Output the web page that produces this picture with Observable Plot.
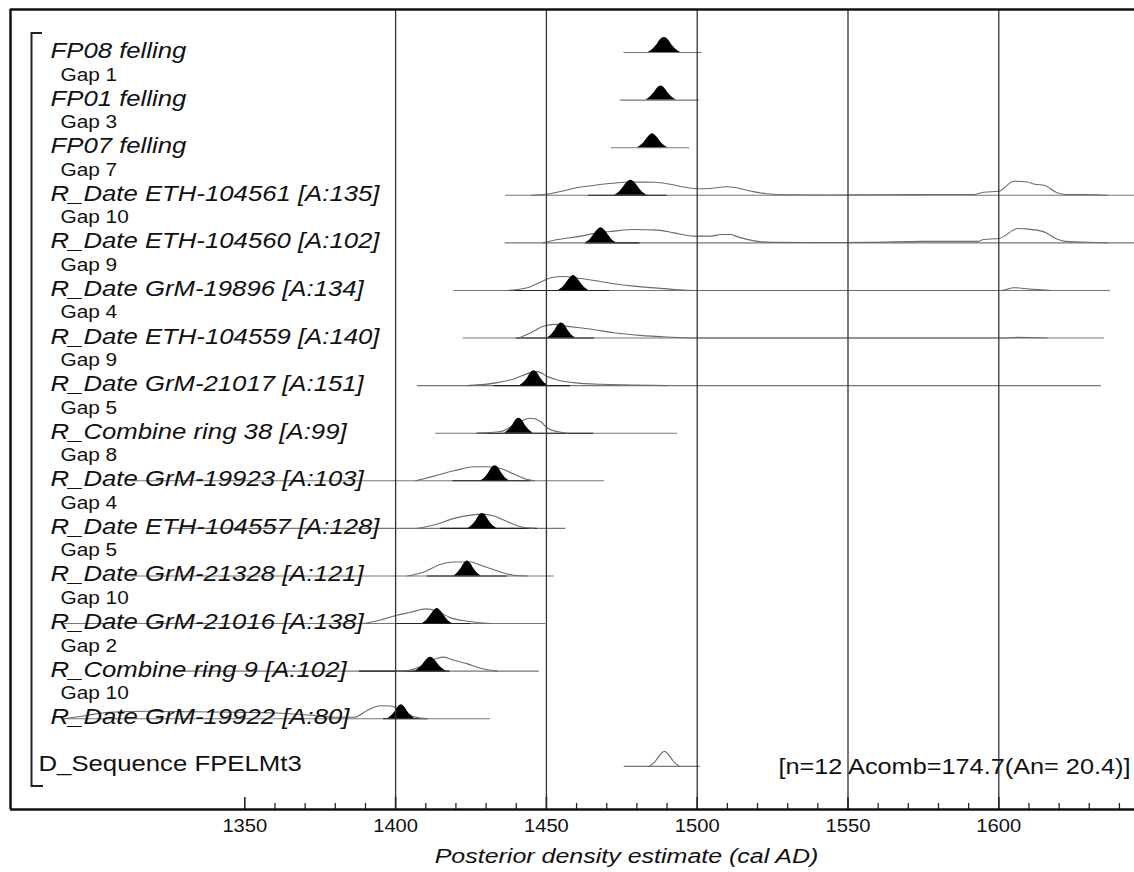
<!DOCTYPE html>
<html><head><meta charset="utf-8">
<script src="https://cdn.jsdelivr.net/npm/d3@7"></script>
<script src="https://cdn.jsdelivr.net/npm/@observablehq/plot@0.6"></script>
<style>body{margin:0;background:#fff} svg{display:block}</style>
</head><body><div id="chart"></div>
<script>
// ---------------- data ----------------
const rowLabels = [
  "FP08 felling", "FP01 felling", "FP07 felling",
  "R_Date ETH-104561 [A:135]", "R_Date ETH-104560 [A:102]", "R_Date GrM-19896 [A:134]",
  "R_Date ETH-104559 [A:140]", "R_Date GrM-21017 [A:151]", "R_Combine ring 38 [A:99]",
  "R_Date GrM-19923 [A:103]", "R_Date ETH-104557 [A:128]", "R_Date GrM-21328 [A:121]",
  "R_Date GrM-21016 [A:138]", "R_Combine ring 9 [A:102]", "R_Date GrM-19922 [A:80]"
];
const gapLabels = ["Gap 1","Gap 3","Gap 7","Gap 10","Gap 9","Gap 4","Gap 9","Gap 5","Gap 8","Gap 4","Gap 5","Gap 10","Gap 2","Gap 10"];
const sequenceLabel = "D_Sequence FPELMt3";
const sequenceStats = "[n=12 Acomb=174.7(An= 20.4)]";
const axisTitle = "Posterior density estimate (cal AD)";
const majorTicks = [1350, 1400, 1450, 1500, 1550, 1600];
const minorTicks = [1360,1370,1380,1390,1410,1420,1430,1440,1460,1470,1480,1490,1510,1520,1530,1540,1560,1570,1580,1590,1610,1620,1630,1640];
const gridYears = [1400, 1450, 1500, 1550, 1600];

// prior (baseline) ranges per row: [row, start, end]
const priorRanges = [
  [0,1475.7,1501.6],[1,1474.5,1500.7],[2,1471.6,1497.5],[3,1436.4,1650],[4,1436.3,1650],
  [5,1419.4,1637],[6,1422.4,1635],[7,1407.2,1634],[8,1413.3,1493.5],[9,1312,1469.2],
  [10,1325.3,1456.4],[11,1312,1452.6],[12,1290,1449.8],[13,1328,1447.6],[14,1290,1431.5],
  [15,1475.8,1501]
];
// darker range bars: [row, start, end]
const rangeBars = [
  [3,1464,1490],[4,1463,1481],[5,1437,1471],[6,1440,1466],[7,1432.6,1458],[8,1427,1465.7],
  [9,1419,1445],[10,1415,1447],[11,1410.5,1437],[12,1400,1425],[13,1388,1418],[14,1396,1410.5]
];
// unmodelled (likelihood) outlines: [year, height px]
const likeETH104561 = [[1445,0],[1450,1],[1455,4],[1460,7.5],[1466,10],[1472,12],[1478,13.2],[1486,13],[1491,11],[1496,8],[1500,6.5],[1505,7],[1509.5,8.5],[1513,7.5],[1518,4],[1523,1.5],[1530,0.5],[1545,0.3],[1557,0.5],[1575,0.7],[1592,0.8],[1595,3],[1600,4],[1605,14],[1609.5,13.3],[1612,11],[1615,10],[1619.5,2.3],[1622,0.8],[1633,0.5],[1636,0]];
const likeETH104560 = [[1449,0],[1453.7,3.3],[1461.4,6.7],[1466,9.5],[1472.4,11.7],[1479,13.3],[1486.9,12.7],[1492.3,10],[1499,6.7],[1504.5,6.7],[1508,8.3],[1511,8.3],[1513.4,6],[1519,2],[1524.5,0.5],[1540,0.3],[1557,0.5],[1575,1.5],[1593,1.5],[1595,3.3],[1600,4.3],[1606.4,14.3],[1609.8,13.7],[1615,11],[1619.7,3.3],[1622,1.5],[1633,0.3],[1636,0]];
const likeGrM19896 = [[1437,0],[1443.7,2.7],[1448,8.3],[1451.5,12.7],[1455.8,14],[1460,12.5],[1465.8,10],[1472.4,6.7],[1479,4.3],[1486.9,2.3],[1493.5,0.7],[1499,0],[1601,0],[1605,2.7],[1610,1.5],[1617,0]];
const likeETH104559 = [[1440.8,0],[1444.2,4.3],[1449,11.7],[1452.5,13.7],[1457,11.7],[1463.7,9.3],[1472.4,5.3],[1481,2.7],[1490,1],[1499,0],[1602,0],[1606,0.7],[1614,0.3],[1616,0]];
const likeGrM21017 = [[1423.8,0],[1433.8,3],[1439.2,6.7],[1444.8,13],[1447,14],[1450.4,9],[1453.7,5.7],[1459,3],[1468,1.3],[1479,0.7],[1490,0]];
const likeRing38 = [[1427,0],[1434.9,1.7],[1439.2,8.3],[1444.8,15],[1448.1,11.7],[1450.4,5],[1454.8,1],[1457,0]];
const likeGrM19923 = [[1406.7,0],[1412.7,4.7],[1419.4,10],[1426,14],[1430.4,14],[1434.9,12.3],[1439.2,6.7],[1443.7,1.3],[1446,0]];
const likeETH104557 = [[1407.2,0],[1412.7,3.3],[1419.4,10],[1425,13.3],[1428.8,14.3],[1432.6,12.3],[1437.1,6.7],[1441.5,1.7],[1445.9,0]];
const likeGrM21328 = [[1403.9,0],[1409.4,4],[1415,11.7],[1419.4,14],[1425,14],[1428.2,10.7],[1433.8,5],[1439.2,0.7],[1443.7,0]];
const likeGrM21016 = [[1389.5,0],[1395,3.5],[1400,8],[1405,11.3],[1410,14.7],[1413.8,12.3],[1418.3,5.7],[1423.8,2.3],[1431.5,0]];
const likeRing9 = [[1400,0],[1403.9,0.5],[1408.3,4.7],[1413.8,13],[1416,14],[1418.3,12],[1423.8,7.3],[1428.2,3],[1433.8,0]];
const likeGrM19922 = [[1290,0],[1297,3],[1305,6.5],[1318,7.5],[1332,7],[1348,6.5],[1362,5.5],[1372,3.5],[1380,1.5],[1386.2,1.5],[1390.6,8.3],[1395,13],[1398.4,12.7],[1401.7,8.7],[1406.1,2],[1410.5,0]];
const sequenceOutline = [[1484.1,0],[1485.7,3.6],[1486.7,7.5],[1487.8,12],[1489.1,15],[1490.4,12],[1491.5,7.5],[1492.5,3.6],[1494.1,0]];

// modelled (posterior) densities: [year, height px]
const postFP08 = [[1483.7,0],[1485.4,3.6],[1486.6,7.5],[1487.6,12],[1489.1,15],[1490.6,12],[1491.6,7.5],[1492.8,3.6],[1494.5,0]];
const postFP01 = [[1482.9,0],[1484.5,3.4],[1485.6,7],[1486.6,11.2],[1488,14],[1489.4,11.2],[1490.4,7],[1491.5,3.4],[1493.2,0]];
const postFP07 = [[1480.2,0],[1481.8,3.4],[1482.8,7],[1483.9,11.2],[1485.2,14],[1486.5,11.2],[1487.6,7],[1488.6,3.4],[1490.2,0]];
const postETH104561 = [[1472.5,0],[1474.3,3.6],[1475.4,7.5],[1476.5,12],[1478,15],[1479.5,12],[1480.6,7.5],[1481.7,3.6],[1483.5,0]];
const postETH104560 = [[1462.9,0],[1464.6,3.6],[1465.6,7.5],[1466.7,12],[1468.1,15],[1469.5,12],[1470.6,7.5],[1471.6,3.6],[1473.3,0]];
const postGrM19896 = [[1454,0],[1455.6,3.6],[1456.6,7.5],[1457.7,12],[1459,15],[1460.3,12],[1461.4,7.5],[1462.4,3.6],[1464,0]];
const postETH104559 = [[1450.3,0],[1451.8,3.6],[1452.8,7.5],[1453.7,12],[1455,15],[1456.3,12],[1457.2,7.5],[1458.2,3.6],[1459.8,0]];
const postGrM21017 = [[1441.2,0],[1442.7,3.6],[1443.7,7.5],[1444.6,12],[1445.9,15],[1447.2,12],[1448.1,7.5],[1449.1,3.6],[1450.7,0]];
const postRing38 = [[1436.2,0],[1437.7,3.6],[1438.7,7.5],[1439.6,12],[1440.9,15],[1442.2,12],[1443.1,7.5],[1444.1,3.6],[1445.6,0]];
const postGrM19923 = [[1428.3,0],[1429.8,3.6],[1430.8,7.5],[1431.7,12],[1433,15],[1434.3,12],[1435.2,7.5],[1436.2,3.6],[1437.8,0]];
const postETH104557 = [[1424.1,0],[1425.6,3.6],[1426.6,7.5],[1427.5,12],[1428.8,15],[1430.1,12],[1431,7.5],[1432,3.6],[1433.6,0]];
const postGrM21328 = [[1419.3,0],[1420.7,3.6],[1421.7,7.5],[1422.6,12],[1423.8,15],[1425,12],[1425.9,7.5],[1426.9,3.6],[1428.3,0]];
const postGrM21016 = [[1408.8,0],[1410.4,3.6],[1411.4,7.5],[1412.5,12],[1413.8,15],[1415.1,12],[1416.2,7.5],[1417.2,3.6],[1418.8,0]];
const postRing9 = [[1406.4,0],[1408,3.4],[1409.1,7],[1410.2,11.2],[1411.6,14],[1413,11.2],[1414.1,7],[1415.2,3.4],[1416.9,0]];
const postGrM19922 = [[1397.4,0],[1398.8,3.4],[1399.8,7],[1400.7,11.2],[1401.9,14],[1403.1,11.2],[1404,7],[1405,3.4],[1406.4,0]];

const likelihoodByRow = [
  [3, likeETH104561],[4, likeETH104560],[5, likeGrM19896],[6, likeETH104559],[7, likeGrM21017],
  [8, likeRing38],[9, likeGrM19923],[10, likeETH104557],[11, likeGrM21328],[12, likeGrM21016],
  [13, likeRing9],[14, likeGrM19922],[15, sequenceOutline]
];
const posteriorByRow = [
  [0, postFP08],[1, postFP01],[2, postFP07],[3, postETH104561],[4, postETH104560],[5, postGrM19896],
  [6, postETH104559],[7, postGrM21017],[8, postRing38],[9, postGrM19923],[10, postETH104557],
  [11, postGrM21328],[12, postGrM21016],[13, postRing9],[14, postGrM19922]
];

// ---------------- layout ----------------
const W = 1134, H = 872;
const ROW_PX = 47.589;               // pixels per row
const Y_TOP = -0.9036, Y_BOTTOM = 15.907;
const X_MIN = 1272.3, X_MAX = 1645;
const font = "'Liberation Sans', Arial, Helvetica, sans-serif";

const toTable = (list) => list.flatMap(([row, pts]) =>
  pts.map(([year, h]) => ({row, year, base: row, top: row - h / ROW_PX})));
const likeTable = toTable(likelihoodByRow);
const postTable = toTable(posteriorByRow);
const priorTable = priorRanges.map(([row, start, end]) => ({row, start, end}));
const barTable = rangeBars.map(([row, start, end]) => ({row, start, end}));

const chart = Plot.plot({
  width: W, height: H,
  marginLeft: 10, marginRight: 0, marginTop: 9, marginBottom: 63,
  style: {fontFamily: font, background: "white", overflow: "visible"},
  x: {domain: [X_MIN, X_MAX], axis: null},
  y: {domain: [Y_TOP, Y_BOTTOM], reverse: true, axis: null},
  marks: [
    Plot.ruleY(priorTable, {y: "row", x1: "start", x2: "end", stroke: "#767676", strokeWidth: 1.1}),
    Plot.ruleY(barTable, {y: "row", x1: "start", x2: "end", stroke: "#222", strokeWidth: 1.1}),
    Plot.line(likeTable, {x: "year", y: "top", z: "row", curve: "monotone-x", stroke: "#6a6a6a", strokeWidth: 1.1}),
    Plot.areaY(postTable, {x: "year", y1: "base", y2: "top", z: "row", curve: "monotone-x", fill: "#000"}),
    Plot.ruleX(gridYears, {stroke: "#333", strokeWidth: 1.3}),
    Plot.ruleX(minorTicks, {x: d => d, y1: Y_BOTTOM, y2: Y_BOTTOM - 6 / ROW_PX, stroke: "#222", strokeWidth: 1.3}),
    Plot.ruleX(majorTicks, {x: d => d, y1: Y_BOTTOM, y2: Y_BOTTOM - 12 / ROW_PX, stroke: "#222", strokeWidth: 1.6}),
    Plot.ruleY([Y_TOP], {stroke: "#111", strokeWidth: 2.5}),
    Plot.ruleY([Y_BOTTOM], {stroke: "#111", strokeWidth: 2.5}),
    Plot.ruleX([X_MIN], {stroke: "#111", strokeWidth: 2.5}),
    Plot.text(rowLabels, {frameAnchor: "left", y: (d, i) => i, text: d => d, dx: 40, dy: 5.5,
      textAnchor: "start", lineAnchor: "bottom", fontSize: 22, fontStyle: "italic", fill: "#111"}),
    Plot.text(gapLabels, {frameAnchor: "left", y: (d, i) => i, text: d => d, dx: 50, dy: 28,
      textAnchor: "start", lineAnchor: "bottom", fontSize: 17.5, fill: "#111"}),
    Plot.text([sequenceLabel], {frameAnchor: "left", y: () => 15, text: d => d, dx: 28, dy: 5,
      textAnchor: "start", lineAnchor: "bottom", fontSize: 22, fill: "#111"}),
    Plot.text([sequenceStats], {frameAnchor: "right", y: () => 15, text: d => d, dx: -4, dy: 8,
      textAnchor: "end", lineAnchor: "bottom", fontSize: 22, fill: "#111"}),
    Plot.text(majorTicks, {x: d => d, frameAnchor: "bottom", text: d => String(d), dy: 22.5,
      lineAnchor: "bottom", fontSize: 18.5, fill: "#111"}),
    Plot.text([axisTitle], {frameAnchor: "bottom", text: d => d, dx: 54, dy: 53,
      lineAnchor: "bottom", fontSize: 20, fontStyle: "italic", fill: "#111"})
  ]
});
document.getElementById("chart").append(chart);

// horizontal stretch of text, matching the wide glyphs of the source rendering
const stretchFactor = new Map();
rowLabels.forEach(t => stretchFactor.set(t, 1.17));
gapLabels.forEach(t => stretchFactor.set(t, 1.19));
stretchFactor.set(sequenceLabel, 1.17);
stretchFactor.set(sequenceStats, 1.15);
majorTicks.forEach(t => stretchFactor.set(String(t), 1.09));
stretchFactor.set(axisTitle, 1.25);
chart.querySelectorAll("text").forEach(el => {
  const sx = stretchFactor.get(el.textContent);
  if (!sx) return;
  let t = el.getAttribute("transform") || "";
  const x = el.getAttribute("x"), y = el.getAttribute("y");
  if (x !== null || y !== null) {
    t += ` translate(${x || 0},${y || 0})`;
    el.removeAttribute("x"); el.removeAttribute("y");
  }
  el.setAttribute("transform", t + ` scale(${sx},1)`);
});

// sequence bracket
d3.select(chart).append("path")
  .attr("d", "M42,33H31.5V786H43")
  .attr("fill", "none").attr("stroke", "#222").attr("stroke-width", 2);
</script>
</body></html>
